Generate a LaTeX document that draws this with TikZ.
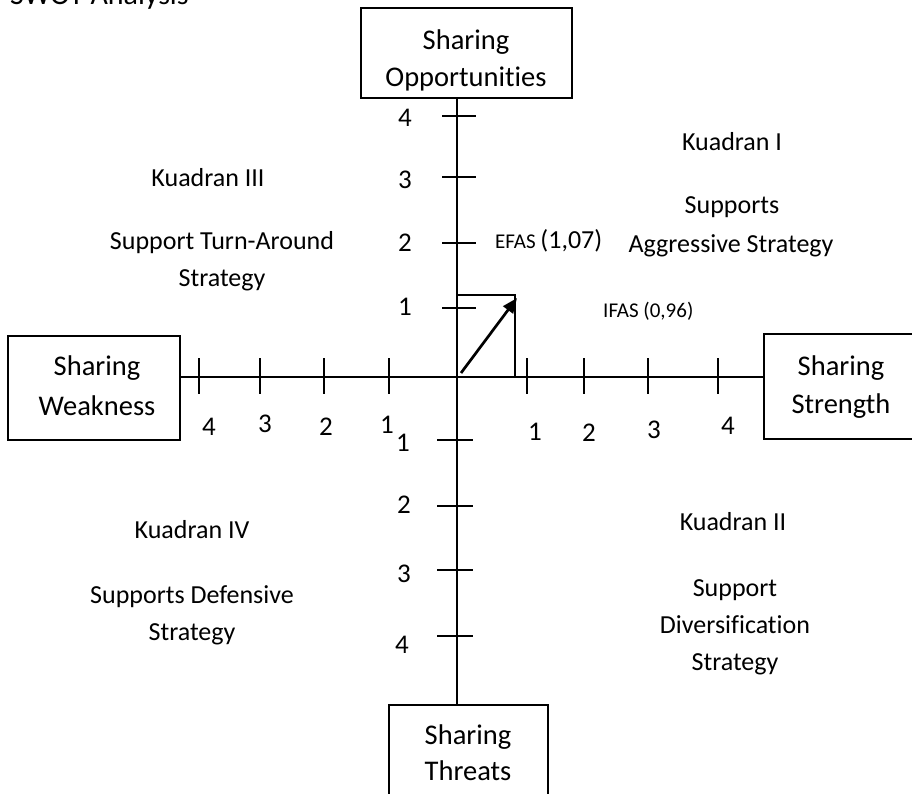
\documentclass[tikz,border=0pt]{standalone}
\usepackage{fontspec}
\setmainfont{Carlito}[Ligatures=NoCommon]
\usetikzlibrary{arrows.meta}
\begin{document}
\begin{tikzpicture}[x=1pt,y=-1pt,
  boxnode/.style={draw, line width=1.6pt, inner sep=0pt},
  boxtxt/.style={font=\fontsize{28.5}{34}\selectfont, anchor=base, inner sep=0pt},
  ticklab/.style={font=\fontsize{27}{32}\selectfont, inner sep=0pt},
  quad/.style={font=\fontsize{26}{31}\selectfont, anchor=base, inner sep=0pt},
  smalltxt/.style={font=\fontsize{21}{25}\selectfont, anchor=base west, inner sep=0pt},
  axisline/.style={line width=2pt},
  tickmark/.style={line width=1.6pt},
  ifasline/.style={line width=1.6pt},
  vecarrow/.style={line width=2.7pt, -{Triangle[length=15pt,width=12pt]}}
]
\useasboundingbox (0,0) rectangle (912,794);
\fill[white] (0,0) rectangle (912,794);

% title (cut off at top, as in the reference)
\node[font=\fontsize{30}{36}\selectfont, anchor=base west, inner sep=0pt] (title) at (10,5) {SWOT Analysis};

% origin
\coordinate (o) at (457,377);

% boxes
\node[boxnode, minimum width=211pt, minimum height=90pt] (opp) at (466.5,53) {};
\node[boxnode, minimum width=172pt, minimum height=104pt] (weak) at (94,388) {};
\node[boxnode, minimum width=166pt, minimum height=105pt] (str) at (847,386.5) {};
\node[boxnode, minimum width=159pt, minimum height=125pt] (thr) at (468.5,767.5) {};

\node[boxtxt] (opp1) at (466,50) {Sharing};
\node[boxtxt] (opp2) at (466,87) {Opportunities};
\node[boxtxt] (weak1) at (97,375) {Sharing};
\node[boxtxt] (weak2) at (97,415) {Weakness};
\node[boxtxt] (str1) at (841,375) {Sharing};
\node[boxtxt] (str2) at (841,413) {Strength};
\node[boxtxt] (thr1) at (468,744) {Sharing};
\node[boxtxt] (thr2) at (468,780) {Threats};

% axes
\draw[axisline] (opp.south -| o) -- (thr.north -| o);
\draw[axisline] (weak.east |- o) -- (str.west |- o);

% vertical ticks
\foreach \yy in {116,177,243,308} \draw[tickmark] (442,\yy) -- (476,\yy);
\foreach \yy in {440,506,570,636} \draw[tickmark] (437,\yy) -- (473,\yy);
% horizontal ticks
\foreach \xx in {199,260,324,389,527,584,648,718} \draw[tickmark] (\xx,358) -- (\xx,394);

% vertical labels
\node[ticklab] (v4) at (405,118) {4};
\node[ticklab] (v3) at (405,180) {3};
\node[ticklab] (v2) at (405,243) {2};
\node[ticklab] (v1) at (405,307) {1};
\node[ticklab] (vm1) at (403,443) {1};
\node[ticklab] (vm2) at (404,505) {2};
\node[ticklab] (vm3) at (404,574) {3};
\node[ticklab] (vm4) at (402,645) {4};
% horizontal labels
\node[ticklab] (hm4) at (209,427) {4};
\node[ticklab] (hm3) at (265,424) {3};
\node[ticklab] (hm2) at (326,427) {2};
\node[ticklab] (hm1) at (387,425) {1};
\node[ticklab] (h1) at (535,432) {1};
\node[ticklab] (h2) at (589,433) {2};
\node[ticklab] (h3) at (654,430) {3};
\node[ticklab] (h4) at (728,426) {4};

% IFAS / EFAS position
\coordinate (p) at (515,295);
\draw[ifasline] (o |- p) -- (p) -- (p |- o);
\coordinate (a1) at (461,373);
\coordinate (a2) at (517,298);
\draw[vecarrow] (a1) -- (a2);

\node[smalltxt] (efas) at (495,248) {EFAS \fontsize{26}{31}\selectfont(1,07)};
\node[smalltxt] (ifas) at (603,317) {IFAS (0,96)};

% quadrant texts
\node[quad] (q1a) at (732,151) {Kuadran I};
\node[quad] (q1b) at (732,214) {Supports};
\node[quad] (q1c) at (731,253) {Aggressive Strategy};

\node[quad] (q3a) at (208,187) {Kuadran III};
\node[quad] (q3b) at (222,250) {Support Turn-Around};
\node[quad] (q3c) at (222,286) {Strategy};

\node[quad] (q2a) at (733,530) {Kuadran II};
\node[quad] (q2b) at (735,596) {Support};
\node[quad] (q2c) at (735,633) {Diversification};
\node[quad] (q2d) at (735,670) {Strategy};

\node[quad] (q4a) at (192,538) {Kuadran IV};
\node[quad] (q4b) at (192,603) {Supports Defensive};
\node[quad] (q4c) at (192,640) {Strategy};
\end{tikzpicture}
\end{document}
